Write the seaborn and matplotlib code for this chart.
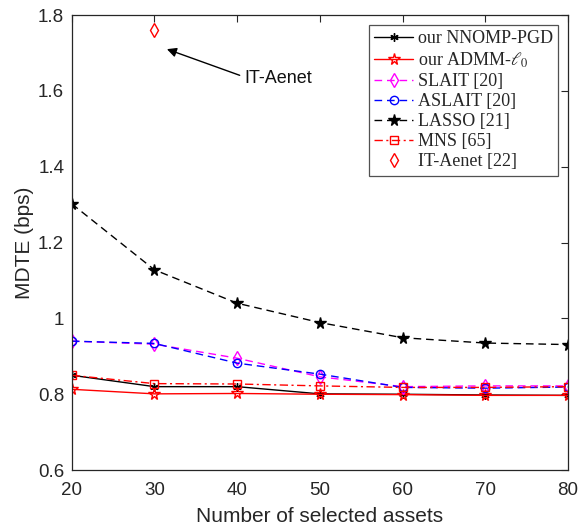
import matplotlib
matplotlib.use("Agg")
import matplotlib.pyplot as plt
import numpy as np
import pandas as pd
import seaborn as sns

# Data
n_assets = [20, 30, 40, 50, 60, 70, 80]
nnomp_pgd = [0.850, 0.820, 0.820, 0.801, 0.800, 0.798, 0.797]
admm_l0 = [0.813, 0.801, 0.802, 0.800, 0.799, 0.797, 0.797]
slait = [0.940, 0.932, 0.895, 0.846, 0.820, 0.822, 0.822]
aslait = [0.940, 0.934, 0.882, 0.853, 0.818, 0.816, 0.819]
lasso = [1.302, 1.128, 1.040, 0.989, 0.949, 0.935, 0.931]
mns = [0.850, 0.828, 0.827, 0.822, 0.818, 0.818, 0.820]
it_aenet_x = [30]
it_aenet = [1.76]

y_ticks = [0.6, 0.8, 1.0, 1.2, 1.4, 1.6, 1.8]
y_ticklabels = ["0.6", "0.8", "1", "1.2", "1.4", "1.6", "1.8"]

sns.set_style("white")
plt.rcParams["font.family"] = ["Liberation Sans", "DejaVu Sans"]
plt.rcParams["mathtext.fontset"] = "stix"

fig = plt.figure(figsize=(5.79, 5.27), dpi=100)
ax = fig.add_axes([0.124, 0.108, 0.857, 0.8635])

dash = (0, (5.5, 3.5))
msize = {"*": 8.5, "o": 6, "s": 5.5, "d": 7}
series = [
    ("our NNOMP-PGD", n_assets, nnomp_pgd, "black", "-", (6, 2, 0), "black"),
    ("our ADMM-$\\ell_0$", n_assets, admm_l0, "red", "-", "*", "none"),
    ("SLAIT [20]", n_assets, slait, "magenta", dash, "d", "none"),
    ("ASLAIT [20]", n_assets, aslait, "blue", dash, "o", "none"),
    ("LASSO [21]", n_assets, lasso, "black", dash, "*", "black"),
    ("MNS [65]", n_assets, mns, "red", (0, (6, 2.5, 1.5, 2.5)), "s", "none"),
]

for label, xs, ys, color, ls, marker, mfc in series:
    df = pd.DataFrame({"x": xs, "y": ys})
    sns.lineplot(data=df, x="x", y="y", ax=ax, color=color, linestyle=ls,
                 linewidth=1.0, marker=marker, markersize=msize.get(marker, 6),
                 markerfacecolor=mfc, markeredgecolor=color, markeredgewidth=1.0,
                 label=label)

df_it = pd.DataFrame({"x": it_aenet_x, "y": it_aenet})
sns.lineplot(data=df_it, x="x", y="y", ax=ax, color="red", linestyle="none",
             marker="d", markersize=7, markerfacecolor="none",
             markeredgecolor="red", markeredgewidth=1.0, label="IT-Aenet [22]")

# annotation: arrow and text placed separately
ax.annotate("", xy=(31.5, 1.71), xytext=(40.3, 1.641),
            arrowprops=dict(arrowstyle="-|>", color="black", lw=1.0,
                            mutation_scale=14, shrinkA=0, shrinkB=0))
ax.text(40.9, 1.633, "IT-Aenet", fontsize=13, va="center", ha="left",
        color="#111111")

ax.set_xlim(20, 80)
ax.set_ylim(0.6, 1.8)
ax.set_xticks(n_assets)
ax.set_yticks(y_ticks)
ax.set_yticklabels(y_ticklabels)
ax.set_xlabel("Number of selected assets", fontsize=15, color="#262626", labelpad=6)
ax.set_ylabel("MDTE (bps)", fontsize=15, color="#262626", labelpad=2.5)
ax.tick_params(direction="in", top=True, right=True, labelsize=13.5,
               length=5, width=0.8, color="#262626", labelcolor="#262626", pad=5.5)
ax.tick_params(axis="x", pad=8.5)
for sp in ax.spines.values():
    sp.set_color("#262626")
    sp.set_linewidth(0.9)

leg = ax.legend(loc="upper right", prop={"family": "Liberation Serif", "size": 13},
                frameon=True, fancybox=False, edgecolor="#262626",
                handlelength=2.15, borderaxespad=0.55, labelspacing=0.17,
                handletextpad=0.25, borderpad=0.3)
leg.get_frame().set_linewidth(0.9)

fig.savefig("out.png", dpi=100)
